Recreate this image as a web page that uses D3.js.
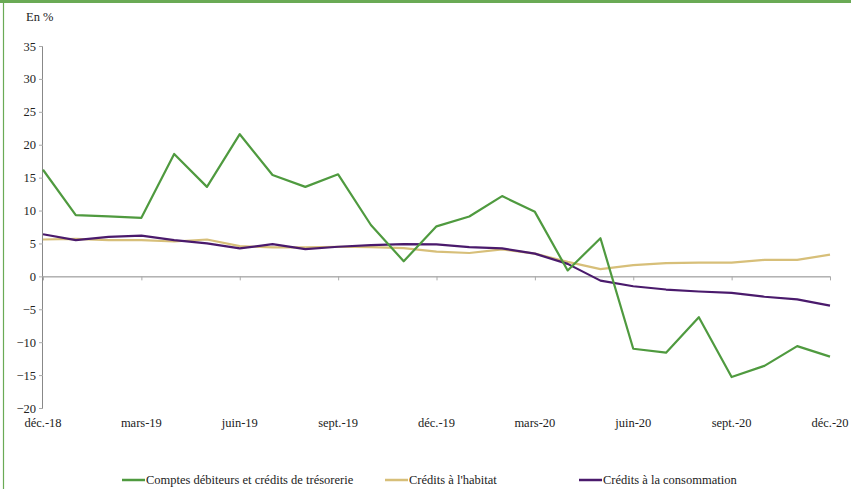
<!DOCTYPE html>
<html><head><meta charset="utf-8">
<script src="https://cdn.jsdelivr.net/npm/d3@7/dist/d3.min.js"></script>
<style>body{margin:0;background:#fff}svg{display:block}</style>
</head><body><svg id="c" width="851" height="489"></svg>
<script>
const months = ["déc.-18","janv.-19","févr.-19","mars-19","avr.-19","mai-19","juin-19","juil.-19","août-19","sept.-19","oct.-19","nov.-19","déc.-19","janv.-20","févr.-20","mars-20","avr.-20","mai-20","juin-20","juil.-20","août-20","sept.-20","oct.-20","nov.-20","déc.-20"];
const tickLabels = ["déc.-18","mars-19","juin-19","sept.-19","déc.-19","mars-20","juin-20","sept.-20","déc.-20"];
const comptes = [16.2,9.3,9.1,8.9,18.6,13.6,21.6,15.4,13.6,15.5,7.8,2.3,7.6,9.1,12.2,9.8,0.9,5.8,-11.0,-11.6,-6.2,-15.3,-13.6,-10.6,-12.2];
const habitat = [5.6,5.7,5.5,5.5,5.3,5.6,4.6,4.4,4.4,4.5,4.45,4.3,3.75,3.55,4.1,3.45,2.2,1.1,1.7,2.0,2.1,2.1,2.5,2.5,3.3];
const conso = [6.4,5.5,6.0,6.2,5.5,5.0,4.25,4.9,4.15,4.5,4.75,4.9,4.85,4.45,4.25,3.45,1.9,-0.65,-1.5,-2.0,-2.3,-2.5,-3.1,-3.5,-4.45];
const yTicks = [35,30,25,20,15,10,5,0,-5,-10,-15,-20];
const seriesNames = ["Comptes débiteurs et crédits de trésorerie","Crédits à l'habitat","Crédits à la consommation"];
const colors = ["#4f9a3f","#d7bf79","#4a1a6c"];
const FONT = "'Liberation Serif', 'Times New Roman', 'DejaVu Serif', serif";

const svg = d3.select("#c");
// frame
svg.append("line").attr("x1",0).attr("x2",851).attr("y1",1.5).attr("y2",1.5).attr("stroke","#6aaa55").attr("stroke-width",3);
svg.append("line").attr("x1",3.5).attr("x2",3.5).attr("y1",0).attr("y2",489).attr("stroke","#6aaa55").attr("stroke-width",1.2);

const x = d3.scalePoint().domain(months).range([43,830]);
const y = d3.scaleLinear().domain([-20,35]).range([408,46]);

// y axis
const yAxis = svg.append("g").attr("transform","translate(43,0)")
  .call(d3.axisLeft(y).tickValues(yTicks).tickSize(4).tickPadding(3));
yAxis.attr("font-family",null);
yAxis.select(".domain").attr("stroke","#888").attr("d","M-0.5,"+y(35)+"V"+y(-20));
yAxis.selectAll(".tick line").attr("stroke","#aaa");
yAxis.selectAll("text").style("font-size","12.5px").style("font-family",FONT).attr("fill","#222");

// x axis at zero
const xAxis = svg.append("g").attr("transform","translate(0,"+y(0)+")")
  .call(d3.axisBottom(x).tickValues(tickLabels).tickSize(4).tickFormat(""));
xAxis.select(".domain").attr("stroke","#888").attr("d","M43,0.5H830");
xAxis.selectAll(".tick line").attr("stroke","#aaa");

// x labels at bottom
svg.append("g").selectAll("text").data(tickLabels).join("text")
  .attr("x",d=>x(d)).attr("y",427).attr("text-anchor","middle")
  .style("font-size","12.5px").style("font-family",FONT).attr("fill","#222").text(d=>d);

svg.append("text").attr("x",26).attr("y",21).style("font-size","12.5px").style("font-family",FONT).attr("fill","#222").text("En %");

const line = d3.line().x((d,i)=>x(months[i])).y(d=>y(d));
[[habitat,1],[conso,2],[comptes,0]].forEach(([s,idx])=>{
  svg.append("path").datum(s).attr("d",line).attr("fill","none")
    .attr("stroke",colors[idx]).attr("stroke-width",2.2).attr("stroke-linejoin","round");
});

// legend
const legX = [122,385,579];
const leg = svg.append("g");
seriesNames.forEach((n,i)=>{
  leg.append("line").attr("x1",legX[i]).attr("x2",legX[i]+23).attr("y1",480).attr("y2",480)
    .attr("stroke",colors[i]).attr("stroke-width",2.5);
  leg.append("text").attr("x",legX[i]+24).attr("y",484).style("font-size","12.5px").style("font-family",FONT).attr("fill","#222").text(n);
});
</script></body></html>
